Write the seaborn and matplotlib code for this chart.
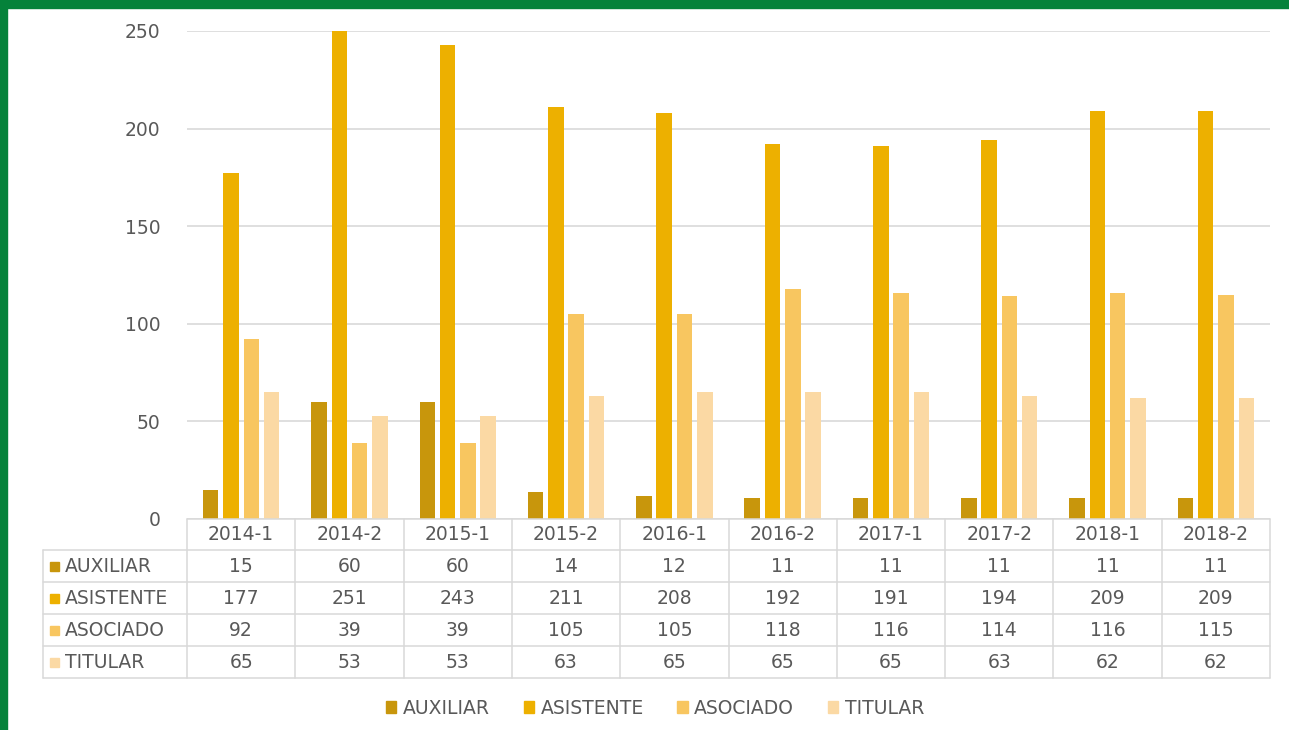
import numpy as np
import pandas as pd
import matplotlib
matplotlib.use("Agg")
import matplotlib.pyplot as plt
import seaborn as sns
from matplotlib.patches import Rectangle
from matplotlib.lines import Line2D

# ---------------- data ----------------
periods = ["2014-1", "2014-2", "2015-1", "2015-2", "2016-1",
           "2016-2", "2017-1", "2017-2", "2018-1", "2018-2"]
auxiliar = [15, 60, 60, 14, 12, 11, 11, 11, 11, 11]
asistente = [177, 251, 243, 211, 208, 192, 191, 194, 209, 209]
asociado = [92, 39, 39, 105, 105, 118, 116, 114, 116, 115]
titular = [65, 53, 53, 63, 65, 65, 65, 63, 62, 62]
series_names = ["AUXILIAR", "ASISTENTE", "ASOCIADO", "TITULAR"]
series_values = [auxiliar, asistente, asociado, titular]
colors = ["#C8960C", "#EDB000", "#F8C660", "#FBD9A4"]
yticks = [0, 50, 100, 150, 200, 250]

df = pd.DataFrame({
    "periodo": np.repeat([periods], len(series_names), axis=0).ravel(),
    "categoria": np.repeat(series_names, len(periods)),
    "valor": np.concatenate(series_values),
})

# ---------------- figure ----------------
W, H = 1289, 730
FS = 13.5
sns.set_theme(style="white")
plt.rcParams["font.family"] = ["DejaVu Sans"]
fig = plt.figure(figsize=(W / 100, H / 100), dpi=100)
fig.patch.set_facecolor("white")

def fx(px):
    return px / W

def fy(py):
    return 1 - py / H

GREEN = "#05823A"
fig.add_artist(Rectangle((0, fy(8)), 1, 8 / H, transform=fig.transFigure,
                         color=GREEN, zorder=10))
fig.add_artist(Rectangle((0, 0), 7 / W, 1, transform=fig.transFigure,
                         color=GREEN, zorder=10))

left, right, top, bottom = 187, 1270, 31, 519
ax = fig.add_axes([fx(left), fy(bottom), fx(right - left), (bottom - top) / H])

sns.barplot(data=df, x="periodo", y="valor", hue="categoria",
            order=periods, hue_order=series_names, palette=colors,
            width=0.75, gap=0.24, saturation=1, ax=ax, legend=False,
            errorbar=None, zorder=3, linewidth=0)

ax.set_ylim(0, 250)
ax.set_xlim(-0.5, len(periods) - 0.5)
ax.set_yticks(yticks)
ax.set_yticklabels([str(t) for t in yticks], color="#595959", fontsize=FS)
ax.tick_params(axis="y", length=0, pad=19)
ax.set_xticks([])
ax.set_xlabel("")
ax.set_ylabel("")
for s in ax.spines.values():
    s.set_visible(False)
ax.grid(axis="y", color="#D9D9D9", linewidth=1.2, zorder=0)
ax.set_axisbelow(True)

# ---------------- data table ----------------
GRID = "#D9D9D9"
TXT = "#595959"
col_w = (right - left) / len(periods)
row_edges = [519, 550, 582, 614, 646, 678]
lab_left = 43

def hline(y, x0, x1):
    fig.add_artist(Line2D([fx(x0), fx(x1)], [fy(y), fy(y)],
                          transform=fig.transFigure, color=GRID, lw=1.1))

def vline(x, y0, y1):
    fig.add_artist(Line2D([fx(x), fx(x)], [fy(y0), fy(y1)],
                          transform=fig.transFigure, color=GRID, lw=1.1))

hline(row_edges[0], left, right)
for y in row_edges[1:]:
    hline(y, lab_left, right)
vline(lab_left, row_edges[1], row_edges[-1])
for k in range(len(periods) + 1):
    vline(left + k * col_w, row_edges[0], row_edges[-1])

# header
for i, p in enumerate(periods):
    fig.text(fx(left + (i + 0.5) * col_w), fy((row_edges[0] + row_edges[1]) / 2),
             p, ha="center", va="center", color=TXT, fontsize=FS)

for r, (name, vals, c) in enumerate(zip(series_names, series_values, colors)):
    yc = (row_edges[r + 1] + row_edges[r + 2]) / 2
    fig.add_artist(Rectangle((fx(50), fy(yc + 4.5)), 9 / W, 9 / H,
                             transform=fig.transFigure, color=c))
    fig.text(fx(65), fy(yc), name, ha="left", va="center", color=TXT,
             fontsize=FS)
    for i, v in enumerate(vals):
        fig.text(fx(left + (i + 0.5) * col_w), fy(yc), str(v),
                 ha="center", va="center", color=TXT, fontsize=FS)

# ---------------- legend ----------------
handles = [Rectangle((0, 0), 1, 1, color=c) for c in colors]
fig.legend(handles, series_names, loc="center", ncol=4,
           bbox_to_anchor=(fx(655), fy(708)), frameon=False,
           fontsize=FS, labelcolor=TXT, handlelength=0.55, handleheight=0.55,
           handletextpad=0.35, columnspacing=1.8)

fig.savefig("out.png", dpi=100, facecolor="white")
